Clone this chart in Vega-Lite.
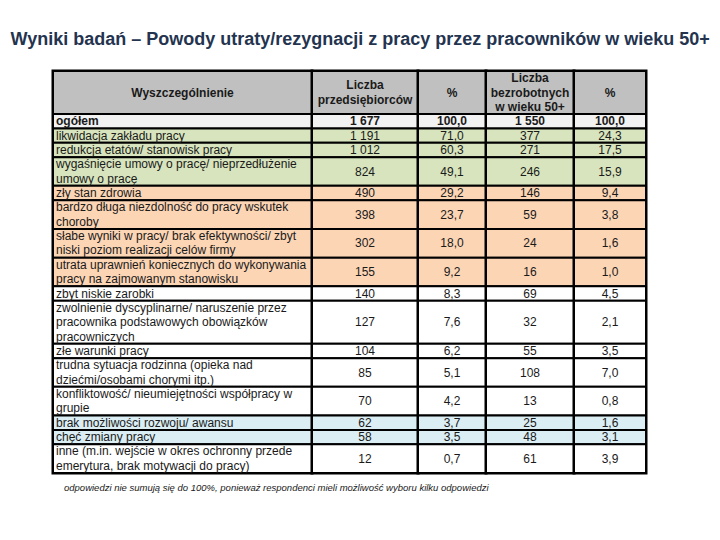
{
  "$schema": "https://vega.github.io/schema/vega-lite/v6.json",
  "background": "white",
  "padding": {"left": 10, "top": 30, "right": 0, "bottom": 0},
  "bounds": "flush",
  "title": {
    "text": "Wyniki badań – Powody utraty/rezygnacji z pracy przez pracowników w wieku 50+",
    "anchor": "start",
    "dx": -40,
    "offset": 20,
    "font": "Liberation Sans",
    "fontSize": 18,
    "fontWeight": "bold",
    "color": "#24344f"
  },
  "data": {
    "values": [
      {"opis": ["ogółem"], "przedsiebiorcy": 1677, "proc_p": 100.0, "bezrobotni": 1550, "proc_b": 100.0, "grupa": "ogółem"},
      {"opis": ["likwidacja zakładu pracy"], "przedsiebiorcy": 1191, "proc_p": 71.0, "bezrobotni": 377, "proc_b": 24.3, "grupa": "ekonomiczne"},
      {"opis": ["redukcja etatów/ stanowisk pracy"], "przedsiebiorcy": 1012, "proc_p": 60.3, "bezrobotni": 271, "proc_b": 17.5, "grupa": "ekonomiczne"},
      {"opis": ["wygaśnięcie umowy o pracę/ nieprzedłużenie", "umowy o pracę"], "przedsiebiorcy": 824, "proc_p": 49.1, "bezrobotni": 246, "proc_b": 15.9, "grupa": "ekonomiczne"},
      {"opis": ["zły stan zdrowia"], "przedsiebiorcy": 490, "proc_p": 29.2, "bezrobotni": 146, "proc_b": 9.4, "grupa": "zdrowotne"},
      {"opis": ["bardzo długa niezdolność do pracy wskutek", "choroby"], "przedsiebiorcy": 398, "proc_p": 23.7, "bezrobotni": 59, "proc_b": 3.8, "grupa": "zdrowotne"},
      {"opis": ["słabe wyniki w pracy/ brak efektywności/ zbyt", "niski poziom realizacji celów firmy"], "przedsiebiorcy": 302, "proc_p": 18.0, "bezrobotni": 24, "proc_b": 1.6, "grupa": "zdrowotne"},
      {"opis": ["utrata uprawnień koniecznych do wykonywania", "pracy na zajmowanym stanowisku"], "przedsiebiorcy": 155, "proc_p": 9.2, "bezrobotni": 16, "proc_b": 1.0, "grupa": "zdrowotne"},
      {"opis": ["zbyt niskie zarobki"], "przedsiebiorcy": 140, "proc_p": 8.3, "bezrobotni": 69, "proc_b": 4.5, "grupa": "pozostałe"},
      {"opis": ["zwolnienie dyscyplinarne/ naruszenie przez", "pracownika podstawowych obowiązków", "pracowniczych"], "przedsiebiorcy": 127, "proc_p": 7.6, "bezrobotni": 32, "proc_b": 2.1, "grupa": "pozostałe"},
      {"opis": ["złe warunki pracy"], "przedsiebiorcy": 104, "proc_p": 6.2, "bezrobotni": 55, "proc_b": 3.5, "grupa": "pozostałe"},
      {"opis": ["trudna sytuacja rodzinna (opieka nad", "dziećmi/osobami chorymi itp.)"], "przedsiebiorcy": 85, "proc_p": 5.1, "bezrobotni": 108, "proc_b": 7.0, "grupa": "pozostałe"},
      {"opis": ["konfliktowość/ nieumiejętności współpracy w", "grupie"], "przedsiebiorcy": 70, "proc_p": 4.2, "bezrobotni": 13, "proc_b": 0.8, "grupa": "pozostałe"},
      {"opis": ["brak możliwości rozwoju/ awansu"], "przedsiebiorcy": 62, "proc_p": 3.7, "bezrobotni": 25, "proc_b": 1.6, "grupa": "rozwój"},
      {"opis": ["chęć zmiany pracy"], "przedsiebiorcy": 58, "proc_p": 3.5, "bezrobotni": 48, "proc_b": 3.1, "grupa": "rozwój"},
      {"opis": ["inne (m.in. wejście w okres ochronny przede", "emerytura, brak motywacji do pracy)"], "przedsiebiorcy": 12, "proc_p": 0.7, "bezrobotni": 61, "proc_b": 3.9, "grupa": "pozostałe"}
    ]
  },
  "transform": [
    {"calculate": "length(datum.opis)", "as": "n"},
    {"window": [{"op": "sum", "field": "n", "as": "end"}], "frame": [null, 0]},
    {"calculate": "datum.end - datum.n", "as": "start"},
    {"calculate": "datum.end - datum.n / 2", "as": "mid"},
    {"calculate": "datum.end - datum.n + 0.5", "as": "first"}
  ],
  "spacing": 0,
  "hconcat": [
    {
      "width": 259,
      "height": 402,
      "layer": [
        {
          "data": {"values": [{"naglowek": "Wyszczególnienie"}]},
          "mark": {"type": "rect", "fill": "#c0c0c0", "stroke": "black", "strokeWidth": 2},
          "encoding": {
            "x": {"datum": 0, "type": "quantitative", "scale": {"domain": [0, 1]}, "axis": null},
            "x2": {"datum": 1},
            "y": {"datum": -3, "type": "quantitative", "scale": {"domain": [-3, 25], "reverse": true, "nice": false, "zero": false}, "axis": null},
            "y2": {"datum": 0}
          }
        },
        {
          "data": {"values": [{"naglowek": "Wyszczególnienie"}]},
          "mark": {"type": "text", "fontWeight": "bold", "baseline": "middle", "align": "center"},
          "encoding": {
            "x": {"datum": 0.5, "type": "quantitative"},
            "y": {"datum": -1.5, "type": "quantitative"},
            "text": {"field": "naglowek"}
          }
        },
        {
          "mark": {"type": "rect", "stroke": "black", "strokeWidth": 2},
          "encoding": {
            "x": {"datum": 0, "type": "quantitative"},
            "x2": {"datum": 1},
            "y": {"field": "start", "type": "quantitative"},
            "y2": {"field": "end"},
            "fill": {"field": "grupa", "type": "nominal", "legend": null,
              "scale": {"domain": ["ogółem", "ekonomiczne", "zdrowotne", "pozostałe", "rozwój"], "range": ["#f2f2f2", "#d7e4bd", "#fcd5b5", "#ffffff", "#dbeef4"]}}
          }
        },
        {
          "transform": [{"filter": "datum.grupa != 'ogółem'"}],
          "mark": {"type": "text", "baseline": "middle", "align": "left", "dx": 3, "lineHeight": 14.36},
          "encoding": {
            "x": {"datum": 0, "type": "quantitative"},
            "y": {"field": "first", "type": "quantitative"},
            "text": {"field": "opis"}
          }
        },
        {
          "transform": [{"filter": "datum.grupa == 'ogółem'"}],
          "mark": {"type": "text", "baseline": "middle", "align": "left", "dx": 3, "fontWeight": "bold"},
          "encoding": {
            "x": {"datum": 0, "type": "quantitative"},
            "y": {"field": "first", "type": "quantitative"},
            "text": {"field": "opis"}
          }
        },
        {
          "data": {"values": [{"przypis": "odpowiedzi nie sumują się do 100%, ponieważ respondenci mieli możliwość wyboru kilku odpowiedzi"}]},
          "mark": {"type": "text", "baseline": "middle", "align": "left", "dx": 11, "fontStyle": "italic", "fontSize": 9.5},
          "encoding": {
            "x": {"datum": 0, "type": "quantitative"},
            "y": {"datum": 26.05, "type": "quantitative"},
            "text": {"field": "przypis"}
          }
        }
      ]
    },
    {
      "width": 106,
      "height": 402,
      "layer": [
        {
          "data": {"values": [{"naglowek": ["Liczba", "przedsiębiorców"]}]},
          "mark": {"type": "rect", "fill": "#c0c0c0", "stroke": "black", "strokeWidth": 2},
          "encoding": {
            "x": {"datum": 0, "type": "quantitative", "scale": {"domain": [0, 1]}, "axis": null},
            "x2": {"datum": 1},
            "y": {"datum": -3, "type": "quantitative", "scale": {"domain": [-3, 25], "reverse": true, "nice": false, "zero": false}, "axis": null},
            "y2": {"datum": 0}
          }
        },
        {
          "data": {"values": [{"naglowek": ["Liczba", "przedsiębiorców"]}]},
          "mark": {"type": "text", "fontWeight": "bold", "baseline": "middle", "align": "center", "lineHeight": 14.36},
          "encoding": {
            "x": {"datum": 0.5, "type": "quantitative"},
            "y": {"datum": -2, "type": "quantitative"},
            "text": {"field": "naglowek"}
          }
        },
        {
          "mark": {"type": "rect", "stroke": "black", "strokeWidth": 2},
          "encoding": {
            "x": {"datum": 0, "type": "quantitative"},
            "x2": {"datum": 1},
            "y": {"field": "start", "type": "quantitative"},
            "y2": {"field": "end"},
            "fill": {"field": "grupa", "type": "nominal", "legend": null,
              "scale": {"domain": ["ogółem", "ekonomiczne", "zdrowotne", "pozostałe", "rozwój"], "range": ["#f2f2f2", "#d7e4bd", "#fcd5b5", "#ffffff", "#dbeef4"]}}
          }
        },
        {
          "transform": [{"filter": "datum.grupa != 'ogółem'"}],
          "mark": {"type": "text", "baseline": "middle", "align": "center"},
          "encoding": {
            "x": {"datum": 0.5, "type": "quantitative"},
            "y": {"field": "mid", "type": "quantitative"},
            "text": {"field": "przedsiebiorcy", "type": "quantitative", "format": ",.0f"}
          }
        },
        {
          "transform": [{"filter": "datum.grupa == 'ogółem'"}],
          "mark": {"type": "text", "baseline": "middle", "align": "center", "fontWeight": "bold"},
          "encoding": {
            "x": {"datum": 0.5, "type": "quantitative"},
            "y": {"field": "mid", "type": "quantitative"},
            "text": {"field": "przedsiebiorcy", "type": "quantitative", "format": ",.0f"}
          }
        }
      ]
    },
    {
      "width": 68,
      "height": 402,
      "layer": [
        {
          "data": {"values": [{"naglowek": "%"}]},
          "mark": {"type": "rect", "fill": "#c0c0c0", "stroke": "black", "strokeWidth": 2},
          "encoding": {
            "x": {"datum": 0, "type": "quantitative", "scale": {"domain": [0, 1]}, "axis": null},
            "x2": {"datum": 1},
            "y": {"datum": -3, "type": "quantitative", "scale": {"domain": [-3, 25], "reverse": true, "nice": false, "zero": false}, "axis": null},
            "y2": {"datum": 0}
          }
        },
        {
          "data": {"values": [{"naglowek": "%"}]},
          "mark": {"type": "text", "fontWeight": "bold", "baseline": "middle", "align": "center"},
          "encoding": {
            "x": {"datum": 0.5, "type": "quantitative"},
            "y": {"datum": -1.5, "type": "quantitative"},
            "text": {"field": "naglowek"}
          }
        },
        {
          "mark": {"type": "rect", "stroke": "black", "strokeWidth": 2},
          "encoding": {
            "x": {"datum": 0, "type": "quantitative"},
            "x2": {"datum": 1},
            "y": {"field": "start", "type": "quantitative"},
            "y2": {"field": "end"},
            "fill": {"field": "grupa", "type": "nominal", "legend": null,
              "scale": {"domain": ["ogółem", "ekonomiczne", "zdrowotne", "pozostałe", "rozwój"], "range": ["#f2f2f2", "#d7e4bd", "#fcd5b5", "#ffffff", "#dbeef4"]}}
          }
        },
        {
          "transform": [{"filter": "datum.grupa != 'ogółem'"}],
          "mark": {"type": "text", "baseline": "middle", "align": "center"},
          "encoding": {
            "x": {"datum": 0.5, "type": "quantitative"},
            "y": {"field": "mid", "type": "quantitative"},
            "text": {"field": "proc_p", "type": "quantitative", "format": ".1f"}
          }
        },
        {
          "transform": [{"filter": "datum.grupa == 'ogółem'"}],
          "mark": {"type": "text", "baseline": "middle", "align": "center", "fontWeight": "bold"},
          "encoding": {
            "x": {"datum": 0.5, "type": "quantitative"},
            "y": {"field": "mid", "type": "quantitative"},
            "text": {"field": "proc_p", "type": "quantitative", "format": ".1f"}
          }
        }
      ]
    },
    {
      "width": 88,
      "height": 402,
      "layer": [
        {
          "data": {"values": [{"naglowek": ["Liczba", "bezrobotnych", "w wieku 50+"]}]},
          "mark": {"type": "rect", "fill": "#c0c0c0", "stroke": "black", "strokeWidth": 2},
          "encoding": {
            "x": {"datum": 0, "type": "quantitative", "scale": {"domain": [0, 1]}, "axis": null},
            "x2": {"datum": 1},
            "y": {"datum": -3, "type": "quantitative", "scale": {"domain": [-3, 25], "reverse": true, "nice": false, "zero": false}, "axis": null},
            "y2": {"datum": 0}
          }
        },
        {
          "data": {"values": [{"naglowek": ["Liczba", "bezrobotnych", "w wieku 50+"]}]},
          "mark": {"type": "text", "fontWeight": "bold", "baseline": "middle", "align": "center", "lineHeight": 14.36},
          "encoding": {
            "x": {"datum": 0.5, "type": "quantitative"},
            "y": {"datum": -2.5, "type": "quantitative"},
            "text": {"field": "naglowek"}
          }
        },
        {
          "mark": {"type": "rect", "stroke": "black", "strokeWidth": 2},
          "encoding": {
            "x": {"datum": 0, "type": "quantitative"},
            "x2": {"datum": 1},
            "y": {"field": "start", "type": "quantitative"},
            "y2": {"field": "end"},
            "fill": {"field": "grupa", "type": "nominal", "legend": null,
              "scale": {"domain": ["ogółem", "ekonomiczne", "zdrowotne", "pozostałe", "rozwój"], "range": ["#f2f2f2", "#d7e4bd", "#fcd5b5", "#ffffff", "#dbeef4"]}}
          }
        },
        {
          "transform": [{"filter": "datum.grupa != 'ogółem'"}],
          "mark": {"type": "text", "baseline": "middle", "align": "center"},
          "encoding": {
            "x": {"datum": 0.5, "type": "quantitative"},
            "y": {"field": "mid", "type": "quantitative"},
            "text": {"field": "bezrobotni", "type": "quantitative", "format": ",.0f"}
          }
        },
        {
          "transform": [{"filter": "datum.grupa == 'ogółem'"}],
          "mark": {"type": "text", "baseline": "middle", "align": "center", "fontWeight": "bold"},
          "encoding": {
            "x": {"datum": 0.5, "type": "quantitative"},
            "y": {"field": "mid", "type": "quantitative"},
            "text": {"field": "bezrobotni", "type": "quantitative", "format": ",.0f"}
          }
        }
      ]
    },
    {
      "width": 72,
      "height": 402,
      "layer": [
        {
          "data": {"values": [{"naglowek": "%"}]},
          "mark": {"type": "rect", "fill": "#c0c0c0", "stroke": "black", "strokeWidth": 2},
          "encoding": {
            "x": {"datum": 0, "type": "quantitative", "scale": {"domain": [0, 1]}, "axis": null},
            "x2": {"datum": 1},
            "y": {"datum": -3, "type": "quantitative", "scale": {"domain": [-3, 25], "reverse": true, "nice": false, "zero": false}, "axis": null},
            "y2": {"datum": 0}
          }
        },
        {
          "data": {"values": [{"naglowek": "%"}]},
          "mark": {"type": "text", "fontWeight": "bold", "baseline": "middle", "align": "center"},
          "encoding": {
            "x": {"datum": 0.5, "type": "quantitative"},
            "y": {"datum": -1.5, "type": "quantitative"},
            "text": {"field": "naglowek"}
          }
        },
        {
          "mark": {"type": "rect", "stroke": "black", "strokeWidth": 2},
          "encoding": {
            "x": {"datum": 0, "type": "quantitative"},
            "x2": {"datum": 1},
            "y": {"field": "start", "type": "quantitative"},
            "y2": {"field": "end"},
            "fill": {"field": "grupa", "type": "nominal", "legend": null,
              "scale": {"domain": ["ogółem", "ekonomiczne", "zdrowotne", "pozostałe", "rozwój"], "range": ["#f2f2f2", "#d7e4bd", "#fcd5b5", "#ffffff", "#dbeef4"]}}
          }
        },
        {
          "transform": [{"filter": "datum.grupa != 'ogółem'"}],
          "mark": {"type": "text", "baseline": "middle", "align": "center"},
          "encoding": {
            "x": {"datum": 0.5, "type": "quantitative"},
            "y": {"field": "mid", "type": "quantitative"},
            "text": {"field": "proc_b", "type": "quantitative", "format": ".1f"}
          }
        },
        {
          "transform": [{"filter": "datum.grupa == 'ogółem'"}],
          "mark": {"type": "text", "baseline": "middle", "align": "center", "fontWeight": "bold"},
          "encoding": {
            "x": {"datum": 0.5, "type": "quantitative"},
            "y": {"field": "mid", "type": "quantitative"},
            "text": {"field": "proc_b", "type": "quantitative", "format": ".1f"}
          }
        }
      ]
    }
  ],
  "config": {
    "view": {"stroke": "black", "strokeWidth": 3},
    "concat": {"spacing": 0},
    "locale": {"number": {"decimal": ",", "thousands": " ", "grouping": [3], "currency": ["", ""]}},
    "text": {"font": "Liberation Sans", "fontSize": 12, "color": "#1a1a1a"}
  }
}
